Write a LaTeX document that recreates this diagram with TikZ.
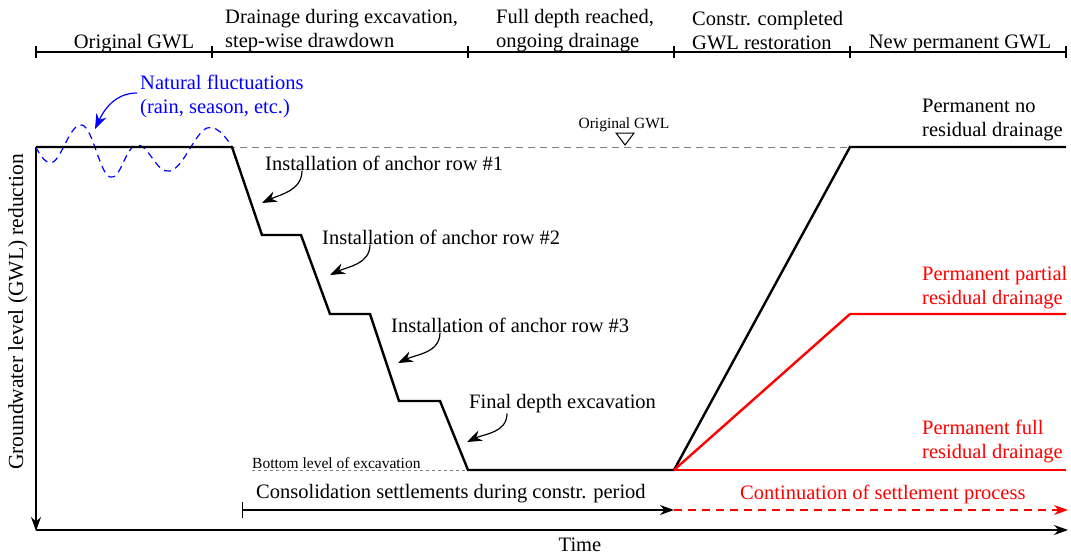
\documentclass[tikz,border=0pt]{standalone}
\usepackage{fontspec}
\setmainfont{Liberation Serif}
\usetikzlibrary{arrows.meta}

\tikzset{
  lbl/.style={font=\fontsize{20.5}{24}\selectfont, inner sep=0pt, align=left},
  small/.style={font=\fontsize{15.5}{18}\selectfont, inner sep=0pt},
  gwl/.style={line width=2.4pt, line join=miter},
  axis/.style={line width=1.2pt, -{Stealth[length=14pt,width=10pt]}},
  note/.style={line width=1.2pt, -{Stealth[length=15pt,width=11pt]}},
  guide/.style={gray, line width=0.8pt, dash pattern=on 7pt off 5pt},
}

\begin{document}
\begin{tikzpicture}[x=1pt,y=-1pt]
  \useasboundingbox (0,0) rectangle (1071,554);
  % phase bar
  \draw[line width=1.2pt] (36,52) -- (1066,52);
  \foreach \x in {36,212,468,674,850,1066}
    \draw[line width=1.2pt] (\x,46) -- (\x,58);
  \node[lbl] (ph1) at (134,44) {Original GWL};
  \node[lbl, anchor=west] (ph2) at (225,31) {Drainage during excavation,\\step-wise drawdown};
  \node[lbl, anchor=west] (ph3) at (496,31) {Full depth reached,\\ongoing drainage};
  \node[lbl, anchor=west] (ph4) at (692,31) {Constr. completed\\GWL restoration};
  \node[lbl] (ph5) at (960,44) {New permanent GWL};

  % axes
  \coordinate (o) at (36,147);
  \coordinate (yend) at (36,531);
  \coordinate (xorg) at (36,530);
  \coordinate (xend) at (1068,530);
  \draw[axis] (o) -- (yend);
  \draw[axis] (xorg) -- (xend);
  \node[lbl, rotate=90, font=\fontsize{21.5}{25}\selectfont] (ylab) at (18,312) {Groundwater level (GWL) reduction};
  \node[lbl] (xlab) at (580,545) {Time};

  % reference levels
  \draw[guide] (36,147) -- (850,147);
  \draw[gray, line width=0.8pt, dash pattern=on 3pt off 3pt] (252,470) -- (468,470);
  \node[small] (orig) at (624,125) {Original GWL};
  \draw[line width=1pt, fill=white] (616,133) -- (634,133) -- (625,145) -- cycle;
  \node[small, anchor=west] (bot) at (252,463) {Bottom level of excavation};

  % natural fluctuations
  \draw[blue, line width=1.2pt, dash pattern=on 7pt off 5pt] plot[smooth, tension=0.7] coordinates
    {(36,147) (53,162) (82,125) (110,177) (137,145) (170,171) (207,128) (232,147)};
  \node[lbl, text=blue, anchor=west] (fluc) at (140,96) {Natural fluctuations\\(rain, season, etc.)};
  \coordinate (flucTip) at (95,129);
  \draw[note, blue] ([xshift=-3pt,yshift=3pt]fluc.west) to[out=180, in=65] (flucTip);

  % groundwater level during excavation
  \draw[gwl] (36,147) -- (232,147) -- (262,235) -- (301,235) -- (330,314)
    -- (370,314) -- (399,401) -- (440,401) -- (468,470) -- (674,470)
    -- (850,147) -- (1066,147);
  \draw[gwl, red] (674,470) -- (850,314) -- (1066,314);
  \draw[gwl, red] (674,470) -- (1066,470);

  % anchor rows
  \node[lbl, anchor=west] (row1) at (265,163) {Installation of anchor row \#1};
  \node[lbl, anchor=west] (row2) at (322,237) {Installation of anchor row \#2};
  \node[lbl, anchor=west] (row3) at (391,325) {Installation of anchor row \#3};
  \node[lbl, anchor=west] (fin) at (469,404) {Final depth excavation};
  \coordinate (tip1) at (262,203);
  \coordinate (tip2) at (330,275);
  \coordinate (tip3) at (398,363);
  \coordinate (tip4) at (467,442);
  \draw[note] ([xshift=37pt]row1.south west) to[out=-90, in=25] (tip1);
  \draw[note] ([xshift=48pt]row2.south west) to[out=-90, in=25] (tip2);
  \draw[note] ([xshift=49pt]row3.south west) to[out=-90, in=25] (tip3);
  \draw[note] ([xshift=38pt]fin.south west) to[out=-90, in=25] (tip4);

  % final states
  \node[lbl, anchor=west] (nores) at (922,120) {Permanent no\\residual drainage};
  \node[lbl, anchor=west, text=red] (partres) at (922,288) {Permanent partial\\residual drainage};
  \node[lbl, anchor=west, text=red] (fullres) at (922,441) {Permanent full\\residual drainage};

  % settlements
  \coordinate (s0) at (242,510);
  \coordinate (s1) at (674,510);
  \coordinate (s2) at (1068,510);
  \draw[line width=1.2pt, {Bar[width=16pt]}-{Stealth[length=14pt,width=10pt]}] (s0) -- (s1);
  \draw[red, line width=1.2pt, dash pattern=on 8pt off 6pt, -{Stealth[length=14pt,width=10pt]}] (s1) -- (s2);
  \node[lbl, anchor=west] (cons) at (256,494) {Consolidation settlements during constr. period};
  \node[lbl, anchor=west, text=red] (cont) at (740,494) {Continuation of settlement process};
\end{tikzpicture}
\end{document}
